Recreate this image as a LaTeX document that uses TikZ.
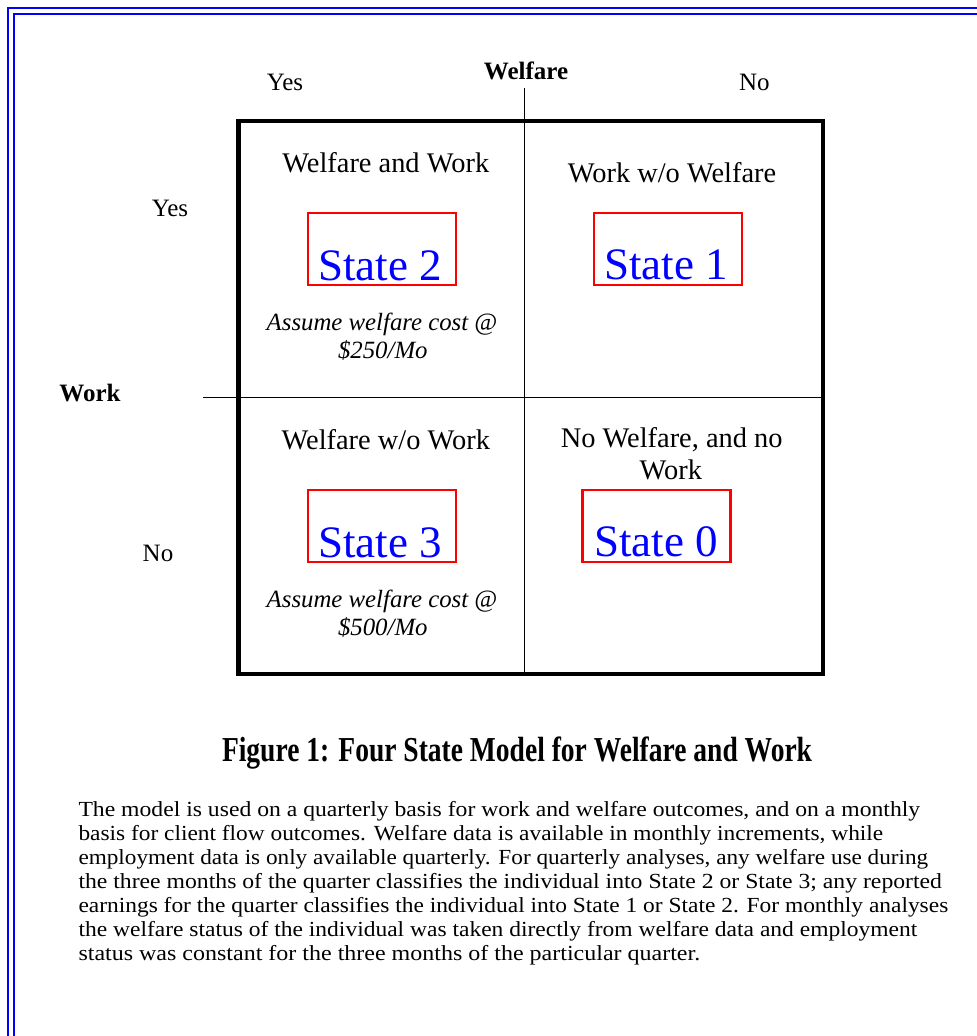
\documentclass[tikz,border=0pt]{standalone}
\usepackage{fontspec}
\setmainfont{Liberation Serif}
\usepackage{graphicx}
\definecolor{frameblue}{RGB}{0,0,255}
\definecolor{statered}{RGB}{255,0,0}
\definecolor{stateblue}{RGB}{0,0,255}
\begin{document}
\begin{tikzpicture}[x=1pt,y=-1pt,
  lbl/.style={anchor=base,inner sep=0pt,font=\fontsize{25}{28}\selectfont},
  axislbl/.style={anchor=base,inner sep=0pt,font=\fontsize{25}{28}\selectfont\bfseries},
  cell/.style={anchor=base,inner sep=0pt,font=\fontsize{28.4}{32}\selectfont},
  cost/.style={anchor=base,inner sep=0pt,font=\fontsize{24.8}{31}\selectfont\itshape},
  statebox/.style={draw=statered,line width=2.2pt,minimum width=148pt,minimum height=72pt,inner sep=0pt},
  statetext/.style={anchor=base,inner sep=0pt,text=stateblue,font=\fontsize{45}{50}\selectfont},
  para/.style={anchor=base west,inner sep=0pt,font=\fontsize{21.5}{24}\selectfont},
  frame/.style={draw=frameblue,line width=2pt},
  grid/.style={draw=black,line width=1.5pt},
]
\useasboundingbox (0,0) rectangle (977,1036);
% blue double frame (top and left)
\draw[frame] (8.3,1040) -- (8.3,7.8) -- (980,7.8);
\draw[frame] (13.6,1040) -- (13.6,14) -- (980,14);

% main square and dividers
\draw[line width=4.5pt] (238.5,121) rectangle (823,674);
\coordinate (vtop) at (524.3,88);
\coordinate (vbot) at (524.3,674);
\coordinate (hleft) at (203.3,397.3);
\coordinate (hright) at (823,397.3);
\draw[grid] (vtop) -- (vbot);
\draw[grid] (hleft) -- (hright);

% axis labels
\node[axislbl] (welfare) at (526,79) {Welfare};
\node[lbl] (yestop) at (285,90) {Yes};
\node[lbl] (notop) at (754.3,90) {No};
\node[lbl] (yesleft) at (170,216) {Yes};
\node[axislbl] (work) at (90,401.7) {Work};
\node[lbl] (noleft) at (158,561.7) {No};

% cell: welfare and work
\node[cell] (c2) at (385.8,172) {Welfare and Work};
\node[statebox] (b2) at (381.7,249.3) {};
\node[statetext] (s2) at (380,280) {State 2};
\node[cost] (k2a) at (382,330) {Assume welfare cost @};
\node[cost] (k2b) at (382.8,358.3) {\$250/Mo};

% cell: work without welfare
\node[cell] (c1) at (672,182) {Work w/o Welfare};
\node[statebox] (b1) at (667.8,249.2) {};
\node[statetext] (s1) at (666,279) {State 1};

% cell: welfare without work
\node[cell] (c3) at (385.8,449) {Welfare w/o Work};
\node[statebox] (b3) at (381.7,526.2) {};
\node[statetext] (s3) at (380,557) {State 3};
\node[cost] (k3a) at (382,607) {Assume welfare cost @};
\node[cost] (k3b) at (382.8,635.3) {\$500/Mo};

% cell: no welfare no work
\node[cell] (c0a) at (671.7,447.7) {No Welfare, and no};
\node[cell] (c0b) at (670.8,479) {Work};
\node[statebox] (b0) at (656.4,526.2) {};
\node[statetext] (s0) at (656,556.7) {State 0};

% caption
\node[anchor=base,inner sep=0pt,font=\fontsize{35}{40}\selectfont\bfseries] (caption) at (517,761)
  {\resizebox{590pt}{\height}{Figure 1: Four State Model for Welfare and Work}};

% paragraph
\node[para] (p1) at (78.3,816.7) {\resizebox{841.7pt}{\height}{The model is used on a quarterly basis for work and welfare outcomes, and on a monthly}};
\node[para] (p2) at (78.3,840.7) {\resizebox{804.7pt}{\height}{basis for client flow outcomes. Welfare data is available in monthly increments, while}};
\node[para] (p3) at (78.3,864.8) {\resizebox{849.7pt}{\height}{employment data is only available quarterly. For quarterly analyses, any welfare use during}};
\node[para] (p4) at (78.3,888.8) {\resizebox{863.4pt}{\height}{the three months of the quarter classifies the individual into State 2 or State 3; any reported}};
\node[para] (p5) at (78.3,912.8) {\resizebox{869.7pt}{\height}{earnings for the quarter classifies the individual into State 1 or State 2. For monthly analyses}};
\node[para] (p6) at (78.3,936.8) {\resizebox{838.7pt}{\height}{the welfare status of the individual was taken directly from welfare data and employment}};
\node[para] (p7) at (78.3,960.8) {\resizebox{621.7pt}{\height}{status was constant for the three months of the particular quarter.}};
\end{tikzpicture}
\end{document}
